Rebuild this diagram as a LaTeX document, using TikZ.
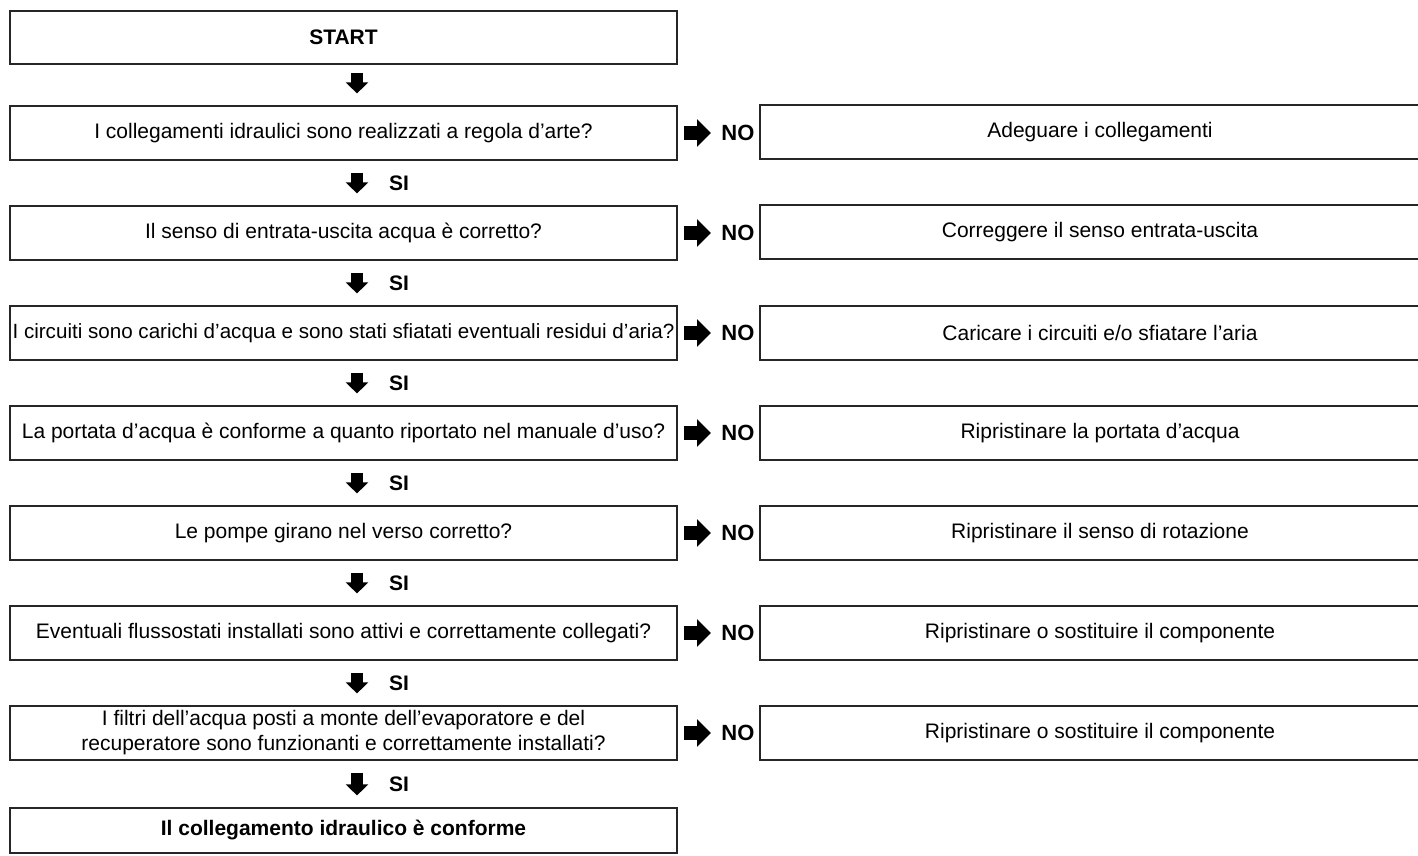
\documentclass[tikz,border=0pt]{standalone}
\usepackage{fontspec}
\setmainfont{Liberation Sans}
\usetikzlibrary{arrows.meta,calc}

\begin{document}
\begin{tikzpicture}[x=0.5pt,y=-0.5pt,
  every node/.style={font=\fontsize{10.5}{12.5}\selectfont},
  qbox/.style={draw=black!85, line width=0.6pt, inner sep=0pt, align=center,
               minimum width=333.5pt, minimum height=27pt},
  abox/.style={draw=black!85, line width=0.6pt, inner sep=0pt, align=center,
               minimum width=340pt, minimum height=27pt},
  endbox/.style={qbox, minimum height=22.5pt, font=\fontsize{10.5}{12.5}\selectfont\bfseries},
  nolbl/.style={inner sep=0pt, anchor=west, font=\fontsize{11}{13}\selectfont\bfseries},
  silbl/.style={inner sep=0pt, anchor=west, xshift=13pt, font=\fontsize{10.5}{12.5}\selectfont\bfseries},
  blockdown/.style={line width=6pt, -{Triangle[width=11pt,length=5.5pt]}},
  blockright/.style={line width=7pt, -{Triangle[width=13.5pt,length=7pt]}}
]
\useasboundingbox (0,0) rectangle (1418,856);

% start box
\node[qbox, minimum height=26.5pt, font=\fontsize{10.5}{12.5}\selectfont\bfseries] (st) at (343.5,37.5) {START};

% questions (left column)
\node[qbox] (q1) at (343.5,133) {I collegamenti idraulici sono realizzati a regola d’arte?};
\node[qbox] (q2) at (343.5,233) {Il senso di entrata-uscita acqua è corretto?};
\node[qbox, font=\fontsize{10.3}{12.5}\selectfont] (q3) at (343.5,333) {I circuiti sono carichi d’acqua e sono stati sfiatati eventuali residui d’aria?};
\node[qbox] (q4) at (343.5,433) {La portata d’acqua è conforme a quanto riportato nel manuale d’uso?};
\node[qbox] (q5) at (343.5,533) {Le pompe girano nel verso corretto?};
\node[qbox] (q6) at (343.5,633) {Eventuali flussostati installati sono attivi e correttamente collegati?};
\node[qbox] (q7) at (343.5,733) {I filtri dell’acqua posti a monte dell’evaporatore e del\\recuperatore sono funzionanti e correttamente installati?};

% final result
\node[endbox] (fin) at (343.5,830.5) {Il collegamento idraulico è conforme};

% corrective actions (right column)
\node[abox] (a1) at (1100,132) {Adeguare i collegamenti};
\node[abox] (a2) at (1100,232) {Correggere il senso entrata-uscita};
\node[abox] (a3) at (1100,333) {Caricare i circuiti e/o sfiatare l’aria};
\node[abox] (a4) at (1100,433) {Ripristinare la portata d’acqua};
\node[abox] (a5) at (1100,533) {Ripristinare il senso di rotazione};
\node[abox] (a6) at (1100,633) {Ripristinare o sostituire il componente};
\node[abox] (a7) at (1100,733) {Ripristinare o sostituire il componente};

% NO labels and branch arrows
\foreach \i/\yy in {1/133,2/233,3/333,4/433,5/533,6/633,7/733}{
  \node[nolbl] (n\i) at (721,\yy) {NO};
  \draw[blockright] ([xshift=3pt]q\i.east) -- ([xshift=-5pt]n\i.west);
}

% downward flow
\draw[blockdown] ([xshift=6.75pt,yshift=-4pt]st.south) -- ([xshift=6.75pt,yshift=6pt]q1.north);
\foreach \a/\b in {q1/q2,q2/q3,q3/q4,q4/q5,q5/q6,q6/q7,q7/fin}{
  \draw[blockdown] ([xshift=6.75pt,yshift=-6pt]\a.south) -- ([xshift=6.75pt,yshift=6pt]\b.north)
    node[silbl, midway] {SI};
}
\end{tikzpicture}
\end{document}
